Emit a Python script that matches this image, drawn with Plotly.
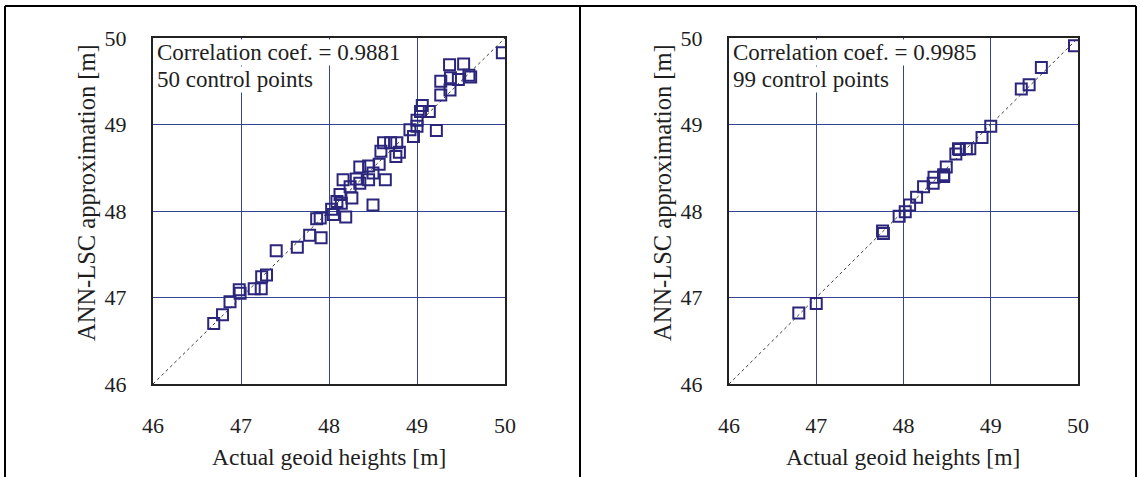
import plotly.graph_objects as go

W, H = 1141, 477

# Left panel: 50 control points (actual, approximation)
left_actual = [49.97, 49.37, 49.53, 49.27, 49.38, 49.47, 49.59, 49.61, 49.27, 49.375,
               49.06, 49.04, 49.14, 49.00, 49.00, 48.92, 48.96, 49.22,
               48.62, 48.70, 48.77, 48.59, 48.80, 48.76, 48.35, 48.45, 48.57, 48.50,
               48.16, 48.31, 48.35, 48.45, 48.64, 48.24, 48.125, 48.26, 48.09, 48.14,
               48.50, 48.03, 48.05, 48.19, 47.86, 47.90, 47.78, 47.91,
               47.40, 47.64, 47.235, 47.29, 47.15, 47.23, 46.98, 46.99, 46.875, 46.79, 46.69]
left_approx = [49.83, 49.69, 49.70, 49.50, 49.54, 49.52, 49.57, 49.55, 49.34, 49.40,
               49.22, 49.15, 49.15, 49.05, 48.98, 48.94, 48.86, 48.93,
               48.79, 48.79, 48.79, 48.69, 48.68, 48.63, 48.51, 48.52, 48.54, 48.44,
               48.36, 48.37, 48.32, 48.36, 48.36, 48.28, 48.19, 48.15, 48.11, 48.09,
               48.07, 48.02, 47.96, 47.93, 47.91, 47.92, 47.72, 47.69,
               47.54, 47.58, 47.24, 47.26, 47.10, 47.10, 47.09, 47.05, 46.95, 46.80, 46.70]

# Right panel: 99 control points
right_actual = [49.96, 49.58, 49.44, 49.35, 49.00, 48.90, 48.76, 48.64, 48.60, 48.49,
                48.46, 48.35, 48.46, 48.34, 48.72, 48.63, 48.23, 48.15, 48.07, 48.02,
                47.95, 47.76, 47.77, 47.00, 46.80]
right_approx = [49.91, 49.66, 49.46, 49.41, 48.98, 48.85, 48.72, 48.71, 48.66, 48.51,
                48.42, 48.39, 48.40, 48.32, 48.72, 48.72, 48.28, 48.16, 48.07, 47.99,
                47.94, 47.77, 47.74, 46.93, 46.82]

diag = [46, 50]
ticks = [46, 47, 48, 49, 50]

marker_color = "#2b267c"
grid_color = "#34448f"
text_color = "#1e1e1e"
font_family = "Liberation Serif"

fig = go.Figure()
for xa, ya, xs, ys in [("x", "y", left_actual, left_approx), ("x2", "y2", right_actual, right_approx)]:
    fig.add_trace(go.Scatter(x=diag, y=diag, mode="lines", xaxis=xa, yaxis=ya,
                             line=dict(color="#3a3a3a", width=1, dash="3px,3px"), showlegend=False))
    fig.add_trace(go.Scatter(x=xs, y=ys, mode="markers", xaxis=xa, yaxis=ya,
                             marker=dict(symbol="square-open", size=11, color=marker_color,
                                         line=dict(width=2, color=marker_color)),
                             showlegend=False))

L1, R1 = 153 / W, 505 / W
L2, R2 = 729 / W, 1078 / W
T, B = 1 - 38 / H, 1 - 384 / H

ax_common = dict(range=[46, 50], tickvals=ticks, ticktext=[str(t) for t in ticks],
                 showgrid=True, gridcolor=grid_color, gridwidth=1, zeroline=False,
                 showline=True, linecolor="#222222", linewidth=2, mirror=True,
                 tickfont=dict(family=font_family, size=22, color=text_color),
                 ticks="", fixedrange=True, automargin=False)

fig.update_layout(
    width=W, height=H, margin=dict(l=0, r=0, t=0, b=0, pad=0), autosize=False,
    paper_bgcolor="white", plot_bgcolor="white",
    xaxis=dict(domain=[L1, R1], anchor="y", ticklabelstandoff=21, **ax_common),
    yaxis=dict(domain=[B, T], anchor="x", ticklabelstandoff=20, **ax_common),
    xaxis2=dict(domain=[L2, R2], anchor="y2", ticklabelstandoff=21, **ax_common),
    yaxis2=dict(domain=[B, T], anchor="x2", ticklabelstandoff=20, **ax_common),
)

ann = []
def add_text(x_px, y_px, text, size, xanchor="center", yanchor="middle", angle=0, bg=None):
    d = dict(x=x_px / W, y=1 - y_px / H, xref="paper", yref="paper", text=text,
             showarrow=False, xanchor=xanchor, yanchor=yanchor, textangle=angle,
             font=dict(family=font_family, size=size, color=text_color))
    if bg:
        d.update(bgcolor=bg, borderpad=0)
    ann.append(d)

add_text(329, 457, "Actual geoid heights [m]", 23.5)
add_text(903, 457, "Actual geoid heights [m]", 23.5)
add_text(86, 192, "ANN-LSC approximation [m]", 24.5, angle=-90)
add_text(662, 192, "ANN-LSC approximation [m]", 24.5, angle=-90)

add_text(156, 52, "Correlation coef. = 0.9881", 23, xanchor="left", bg="white")
add_text(156, 79, "50 control points", 23, xanchor="left", bg="white")
add_text(732, 52, "Correlation coef. = 0.9985", 23, xanchor="left", bg="white")
add_text(732, 79, "99 control points", 23, xanchor="left", bg="white")
fig.update_layout(annotations=ann)

# outer frame
def px_line(x0, y0, x1, y1):
    fig.add_shape(type="line", xref="paper", yref="paper",
                  x0=x0 / W, y0=1 - y0 / H, x1=x1 / W, y1=1 - y1 / H,
                  line=dict(color="black", width=2))
px_line(5, 6, 1136, 6)
px_line(5, 6, 5, 477)
px_line(580, 6, 580, 477)
px_line(1136, 6, 1136, 477)

fig.write_html("out.html", config={"displayModeBar": False},
               post_script="document.body.style.margin='0';document.body.style.overflow='hidden';")
